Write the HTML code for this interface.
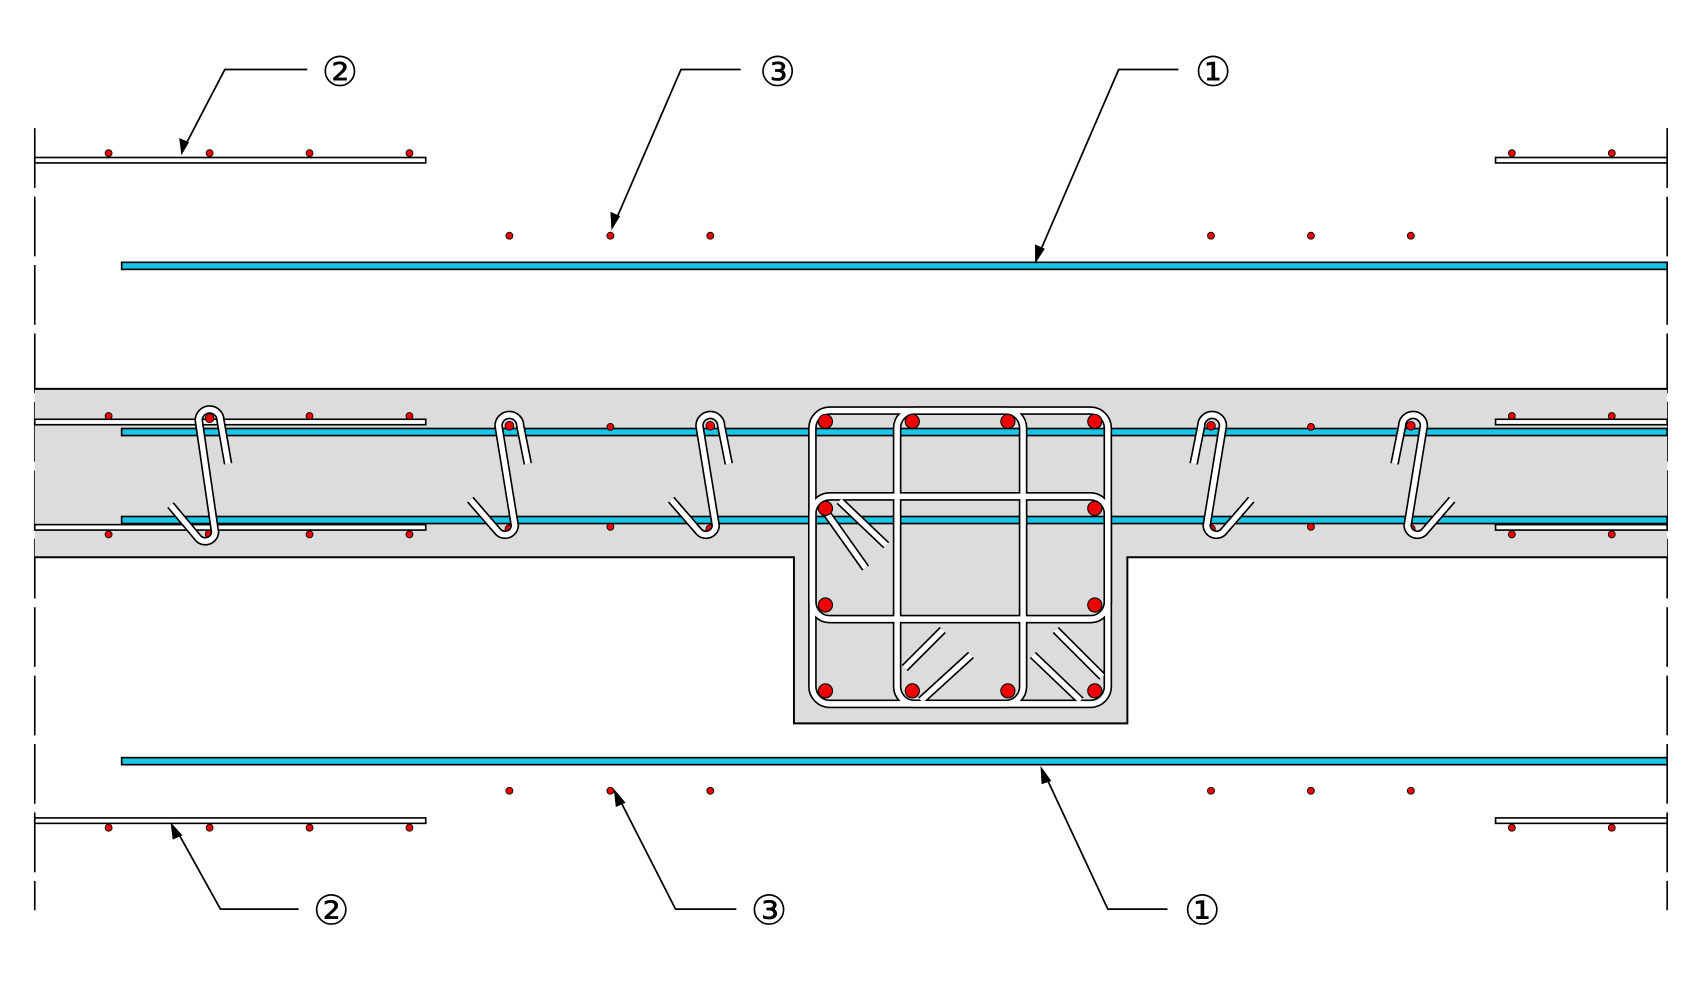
<!DOCTYPE html>
<html><head><meta charset="utf-8"><style>html,body{margin:0;padding:0;background:#fff;}svg{display:block}</style></head>
<body>
<svg width="1703" height="1008" viewBox="0 0 1568 928" preserveAspectRatio="none" xmlns="http://www.w3.org/2000/svg">
<defs>
<g id="ties" fill="none" stroke-linecap="butt" stroke-linejoin="round">
<path d="M210,427 L203,387 A10,10 0 0 0 183,387 L198,490 A9,9 0 0 1 183,496 L157,465"/>
<path d="M486,427 L479,392 A10,10 0 0 0 459,392 L474,484 A9,9 0 0 1 459,490 L433,460"/>
<path d="M671,427 L664,392 A10,10 0 0 0 644,392 L659,484 A9,9 0 0 1 644,490 L618,460"/>
<path d="M1099,427 L1106,392 A10,10 0 0 1 1126,392 L1111,484 A9,9 0 0 0 1126,490 L1152,460"/>
<path d="M1284,427 L1291,392 A10,10 0 0 1 1311,392 L1296,484 A9,9 0 0 0 1311,490 L1337,460"/>
<rect x="748" y="378" width="272" height="270" rx="16"/>
<rect x="826" y="378" width="116" height="270" rx="16"/>
<rect x="748" y="457" width="272" height="113" rx="16"/>
<path d="M773,461 L816,502"/>
<path d="M758,468 L797,523"/>
<path d="M868,580 L833,615"/>
<path d="M894,603 L848,645"/>
<path d="M972,580 L1015,623"/>
<path d="M951,603 L995,645"/>
</g>
</defs>
<g stroke="#000" stroke-width="1.5" stroke-dasharray="55,8">
<line x1="32" y1="118" x2="32" y2="838"/>
<line x1="1535" y1="118" x2="1535" y2="838"/>
</g>
<path d="M32,358 H1535 V513 H1038 V666 H731 V513 H32 Z" fill="#dcdcdc" stroke="none"/>
<path d="M32,358 H1535 M1535,513 H1038 V666 H731 V513 H32" fill="none" stroke="#000" stroke-width="1.8"/>
<g fill="#fff" stroke="#000" stroke-width="1.5">
<rect x="32" y="145" width="360" height="5"/>
<rect x="1377" y="145" width="158" height="5"/>
<rect x="32" y="386" width="360" height="5"/>
<rect x="1377" y="386" width="158" height="5"/>
<rect x="32" y="483" width="360" height="5"/>
<rect x="1377" y="483" width="158" height="5"/>
<rect x="32" y="753" width="360" height="5"/>
<rect x="1377" y="753" width="158" height="5"/>
</g>
<g fill="#19c6e6" stroke="#000" stroke-width="1.5">
<rect x="112" y="241.5" width="1423" height="6.5"/>
<rect x="112" y="394.5" width="1423" height="6.5"/>
<rect x="112" y="475.5" width="1423" height="6.5"/>
<rect x="112" y="697.5" width="1423" height="6.5"/>
</g>
<g fill="#e00" stroke="#000" stroke-width="0.8">
<circle cx="100" cy="141" r="3.2"/><circle cx="193" cy="141" r="3.2"/><circle cx="285" cy="141" r="3.2"/><circle cx="377" cy="141" r="3.2"/>
<circle cx="1392" cy="141" r="3.2"/><circle cx="1484" cy="141" r="3.2"/>
<circle cx="469" cy="217" r="3.2"/><circle cx="562" cy="217" r="3.2"/><circle cx="654" cy="217" r="3.2"/>
<circle cx="1115" cy="217" r="3.2"/><circle cx="1207" cy="217" r="3.2"/><circle cx="1299" cy="217" r="3.2"/>
<circle cx="100" cy="383" r="3.2"/><circle cx="285" cy="383" r="3.2"/><circle cx="377" cy="383" r="3.2"/>
<circle cx="1392" cy="383" r="3.2"/><circle cx="1484" cy="383" r="3.2"/>
<circle cx="562" cy="393" r="3.2"/><circle cx="1207" cy="393" r="3.2"/>
<circle cx="562" cy="485" r="3.2"/><circle cx="1207" cy="485" r="3.2"/>
<circle cx="100" cy="492" r="3.2"/><circle cx="285" cy="492" r="3.2"/><circle cx="377" cy="492" r="3.2"/>
<circle cx="1392" cy="492" r="3.2"/><circle cx="1484" cy="492" r="3.2"/>
<circle cx="469" cy="728" r="3.2"/><circle cx="562" cy="728" r="3.2"/><circle cx="654" cy="728" r="3.2"/>
<circle cx="1115" cy="728" r="3.2"/><circle cx="1207" cy="728" r="3.2"/><circle cx="1299" cy="728" r="3.2"/>
<circle cx="100" cy="762" r="3.2"/><circle cx="193" cy="762" r="3.2"/><circle cx="285" cy="762" r="3.2"/><circle cx="377" cy="762" r="3.2"/>
<circle cx="1392" cy="762" r="3.2"/><circle cx="1484" cy="762" r="3.2"/>
<circle cx="193" cy="385" r="4"/><circle cx="469" cy="392" r="4"/><circle cx="654" cy="392" r="4"/><circle cx="1115" cy="392" r="4"/><circle cx="1299" cy="392" r="4"/>
<circle cx="193" cy="492" r="4"/><circle cx="469" cy="487" r="4"/><circle cx="654" cy="487" r="4"/><circle cx="1115" cy="487" r="4"/><circle cx="1299" cy="487" r="4"/>
</g>
<use href="#ties" stroke="#000" stroke-width="8"/>
<use href="#ties" stroke="#fff" stroke-width="5"/>
<g fill="#e00" stroke="#000" stroke-width="1">
<circle cx="760" cy="388" r="6.5"/><circle cx="840" cy="388" r="6.5"/><circle cx="928" cy="388" r="6.5"/><circle cx="1008" cy="388" r="6.5"/>
<circle cx="760" cy="468" r="6.5"/><circle cx="1008" cy="468" r="6.5"/>
<circle cx="760" cy="557" r="6.5"/><circle cx="1008" cy="557" r="6.5"/>
<circle cx="760" cy="636" r="6.5"/><circle cx="840" cy="636" r="6.5"/><circle cx="928" cy="636" r="6.5"/><circle cx="1008" cy="636" r="6.5"/>
</g>
<g fill="none" stroke="#000" stroke-width="1.6">
<path d="M283,64 H207 L170,135"/>
<path d="M682,64 H627 L566,205"/>
<path d="M1085,64 H1030 L957,233"/>
<path d="M275,837 H203 L163,765"/>
<path d="M678,837 H622 L570,735"/>
<path d="M1075,837 H1020 L963,715"/>
</g>
<g fill="#000">
<path d="M167,143 L165,127 L174,131 Z"/>
<path d="M563,212 L562,195 L571,199 Z"/>
<path d="M953,243 L953,225 L962,229 Z"/>
<path d="M157,757 L168,769 L159,773 Z"/>
<path d="M565,726 L576,739 L567,743 Z"/>
<path d="M958,705 L968,719 L959,722 Z"/>
</g>
<g font-family="'Liberation Sans','DejaVu Sans','Noto Sans CJK SC',sans-serif" font-size="38" text-anchor="middle" fill="#000">
<text x="313" y="79">②</text>
<text x="716" y="79">③</text>
<text x="1117" y="79">①</text>
<text x="305" y="851">②</text>
<text x="708" y="851">③</text>
<text x="1107" y="851">①</text>
</g>
</svg>
</body></html>
